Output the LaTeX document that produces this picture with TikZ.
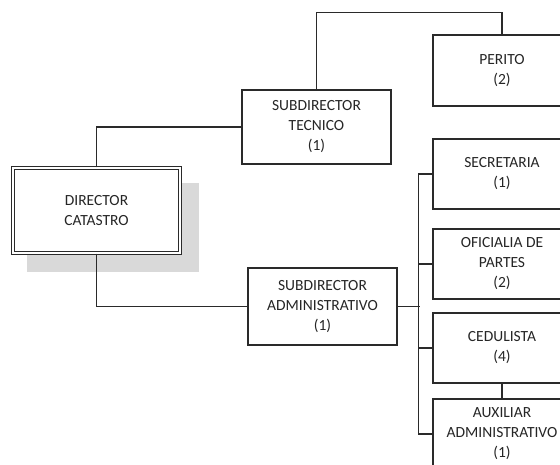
\documentclass[tikz,border=0pt]{standalone}
\usepackage{fontspec}
\setmainfont{Carlito}
\usetikzlibrary{calc}
\definecolor{ink}{HTML}{2A2A2A}
\definecolor{txt}{HTML}{262626}
\definecolor{shadowgray}{HTML}{D9D9D9}
\begin{document}
\begin{tikzpicture}[x=1pt,y=-1pt,
  box/.style={draw=ink,line width=1.3pt,fill=white,align=center,text=txt,
    font=\fontsize{15.5}{20}\selectfont,inner sep=0pt},
  conn/.style={draw=ink,line width=1.2pt}]
\useasboundingbox (0,0) rectangle (560,464);
\clip (0,0) rectangle (560,464);
% shadow
\fill[shadowgray] (27,183) rectangle (199,272);
% nodes
\node[box,double=white,draw=ink,line width=1.2pt,double distance=2.2pt,minimum width=167pt,minimum height=85pt] (dir) at (96.5,210.5) {DIRECTOR\\CATASTRO};
\node[box,minimum width=149pt,minimum height=74pt] (tec) at (316.5,127) {SUBDIRECTOR\\TECNICO\\(1)};
\node[box,minimum width=149pt,minimum height=77pt] (adm) at (322.5,306.5) {SUBDIRECTOR\\ADMINISTRATIVO\\(1)};
\node[box,minimum width=138pt,minimum height=71pt] (per) at (502,70.5) {PERITO\\(2)};
\node[box,minimum width=138pt,minimum height=70pt] (sec) at (502,174) {SECRETARIA\\(1)};
\node[box,minimum width=138pt,minimum height=70pt] (ofi) at (502,264) {OFICIALIA DE\\PARTES\\(2)};
\node[box,minimum width=138pt,minimum height=70pt] (ced) at (502,348) {CEDULISTA\\(4)};
\node[box,minimum width=138pt,minimum height=70pt] (aux) at (502,434) {AUXILIAR\\ADMINISTRATIVO\\(1)};
% connectors
\draw[conn] (dir.north) |- (tec.west);
\draw[conn] (dir.south) |- (adm.west);
\draw[conn] (tec.north) |- ($(per.north)+(0,-22)$) -- (per.north);
\draw[conn] (adm.east) -- ++(22,0);
\draw[conn] (sec.west) -- ++(-14,0) |- (aux.west);
\draw[conn] (ofi.west) -- ++(-14,0);
\draw[conn] (ced.west) -- ++(-14,0);
\draw[conn] (ced.south) -- (aux.north);
\end{tikzpicture}
\end{document}
